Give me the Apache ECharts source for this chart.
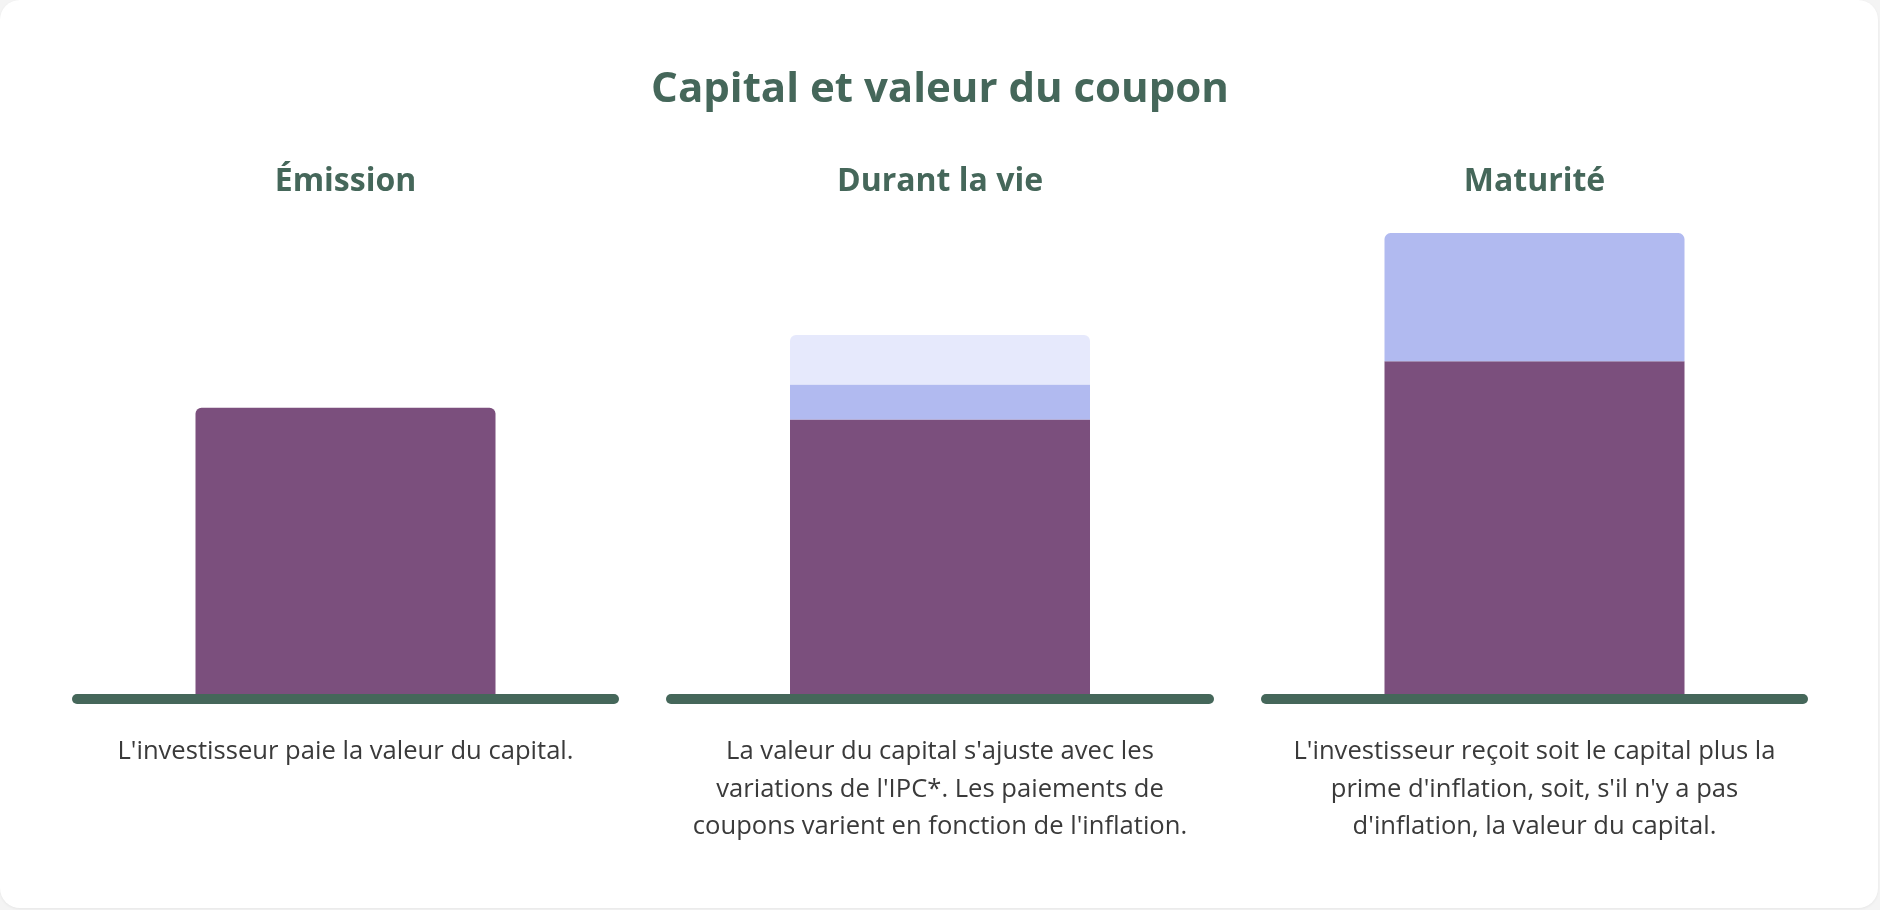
<!DOCTYPE html>
<html>
<head>
<meta charset="utf-8">
<title>Capital et valeur du coupon</title>
<script src="https://cdn.jsdelivr.net/npm/echarts@6/dist/echarts.min.js"></script>
<style>
  html, body { margin: 0; padding: 0; background: #f4f4f4; }
  #card {
    position: absolute; left: 0; top: 0;
    width: 1878px; height: 908px;
    background: #fff; border-radius: 20px;
    box-shadow: 0 1px 3px rgba(0,0,0,0.06);
  }
  #chart { width: 1878px; height: 908px; }
</style>
</head>
<body>
<div id="card"><div id="chart"></div></div>
<script>
// données
const phases = ['Émission', 'Durant la vie', 'Maturité'];
const capital = [100, 96, 116];     // valeur du capital
const inflation = [0, 12, 44];      // ajustement / prime d'inflation
const coupon = [0, 17, 0];          // paiements de coupons
const descriptions = [
  "L'investisseur paie la valeur du capital.",
  "La valeur du capital s'ajuste avec les\nvariations de l'IPC*. Les paiements de\ncoupons varient en fonction de l'inflation.",
  "L'investisseur reçoit soit le capital plus la\nprime d'inflation, soit, s'il n'y a pas\nd'inflation, la valeur du capital."
];

const green = '#45675a';
const colors = { capital: '#7b4f7d', inflation: '#b1baf0', coupon: '#e6e9fc' };
const font = '"Open Sans", sans-serif';

// position des trois panneaux
const panels = [
  { left: 77, right: 1878 - 614 },
  { left: 671, right: 1878 - 1209 },
  { left: 1266, right: 1878 - 1803 }
];

let grids = [], xAxes = [], yAxes = [], series = [], graphics = [];

panels.forEach((p, i) => {
  grids.push({ left: p.left, right: p.right, top: 204, bottom: 209 });
  xAxes.push({
    type: 'category', gridIndex: i, data: [phases[i]], z: 5,
    axisLine: { lineStyle: { color: green, width: 10, cap: 'round' } },
    axisTick: { show: false }, axisLabel: { show: false }
  });
  yAxes.push({
    type: 'value', gridIndex: i, min: 0, max: 170,
    show: false, splitLine: { show: false }
  });

  const layers = [
    ['Capital', capital[i], colors.capital],
    ['Inflation', inflation[i], colors.inflation],
    ['Coupon', coupon[i], colors.coupon]
  ];
  // le segment du haut a les coins arrondis
  let topIdx = 0;
  layers.forEach((l, k) => { if (l[1] > 0) topIdx = k; });
  layers.forEach((l, k) => {
    series.push({
      name: l[0], type: 'bar', xAxisIndex: i, yAxisIndex: i,
      stack: 'pile' + i, barWidth: 300, silent: true,
      data: [{
        value: l[1],
        itemStyle: { color: l[2], borderRadius: k === topIdx ? [6, 6, 0, 0] : 0 }
      }]
    });
  });

  const cx = p.left + (1878 - p.left - p.right) / 2;
  graphics.push({
    type: 'text', x: cx, y: 182,
    style: { text: phases[i], font: 'bold 32px ' + font, fill: green,
             textAlign: 'center', textVerticalAlign: 'middle' }
  });
  graphics.push({
    type: 'text', x: cx, y: 733,
    style: { text: descriptions[i], font: '25.6px ' + font, fill: '#3a3a3a',
             lineHeight: 37.5, textAlign: 'center', textVerticalAlign: 'top' }
  });
});

graphics.push({
  type: 'text', x: 940, y: 90,
  style: { text: 'Capital et valeur du coupon', font: 'bold 42px ' + font, fill: green,
           textAlign: 'center', textVerticalAlign: 'middle' }
});

const chart = echarts.init(document.getElementById('chart'));
chart.setOption({
  animation: false,
  grid: grids,
  xAxis: xAxes,
  yAxis: yAxes,
  series: series,
  graphic: graphics
});
</script>
</body>
</html>
